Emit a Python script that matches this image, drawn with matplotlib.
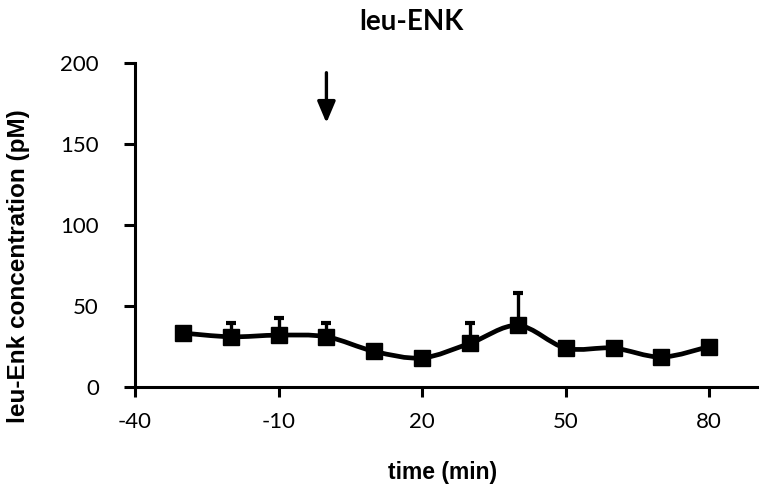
import matplotlib
matplotlib.use("Agg")
import matplotlib.pyplot as plt
from matplotlib.path import Path
from matplotlib.patches import PathPatch
import numpy as np

plt.rcParams["axes.unicode_minus"] = False

# sampling times (min) and leu-Enk concentration (pM)
time_min = [-30, -20, -10, 0, 10, 20, 30, 40, 50, 60, 70, 80]
conc = [33.3, 31, 32, 31, 22, 18, 27, 38, 24, 24, 18.5, 25]
err_up = [0, 8.5, 10.5, 8.5, 0, 0, 12.5, 20, 0, 0, 0, 0]

x_ticks = [-40, -10, 20, 50, 80]
y_ticks = [0, 50, 100, 150, 200]
arrow_x = 0
arrow_top, arrow_tip = 194, 163

TICK_FONT = "Lato"
LABEL_FONT = "Liberation Sans"


def smooth_path(xs, ys):
    # Catmull-Rom style smoothing, drawn as cubic bezier segments
    pts = np.column_stack([xs, ys]).astype(float)
    ext = np.vstack([pts[0], pts, pts[-1]])
    verts = [tuple(pts[0])]
    codes = [Path.MOVETO]
    for i in range(1, len(ext) - 2):
        p0, p1, p2, p3 = ext[i - 1], ext[i], ext[i + 1], ext[i + 2]
        c1 = p1 + (p2 - p0) / 6
        c2 = p2 - (p3 - p1) / 6
        verts += [tuple(c1), tuple(c2), tuple(p2)]
        codes += [Path.CURVE4] * 3
    return Path(verts, codes)


fig = plt.figure(figsize=(7.64, 4.92), dpi=100)
ax = fig.add_axes([0.1767, 0.2134, 0.8143, 0.6586])

ax.errorbar(time_min, conc, yerr=[np.zeros(len(err_up)), err_up], fmt="none",
            ecolor="black", elinewidth=2.4, capsize=3.6, capthick=3, zorder=2)
ax.add_patch(PathPatch(smooth_path(time_min, conc), facecolor="none",
                       edgecolor="black", lw=3.4, zorder=3))
ax.plot(time_min, conc, ls="none", marker="s", ms=11.5, color="black", zorder=4)

ax.annotate("", xy=(arrow_x, arrow_tip), xytext=(arrow_x, arrow_top),
            arrowprops=dict(arrowstyle="-|>,head_length=1.3,head_width=0.55",
                            lw=2.4, color="black", shrinkA=0, shrinkB=0,
                            mutation_scale=10))

ax.set_xlim(-40, 90)
ax.set_ylim(0, 200)
ax.set_xticks(x_ticks)
ax.set_yticks(y_ticks)
for s in ("top", "right"):
    ax.spines[s].set_visible(False)
for s in ("left", "bottom"):
    ax.spines[s].set_linewidth(2.2)
ax.tick_params(axis="x", direction="out", width=2.2, length=7, pad=11, labelsize=16)
ax.tick_params(axis="y", direction="out", width=2.2, length=8, pad=18, labelsize=16)
for lab in ax.get_xticklabels() + ax.get_yticklabels():
    lab.set_fontfamily(TICK_FONT)

fig.text(443 / 764, 1 - 472 / 492, "time (min)", ha="center", va="center",
         fontsize=16.5, fontweight="bold", family=LABEL_FONT)
fig.text(19 / 764, 1 - 266 / 492, "leu-Enk concentration (pM)", ha="center",
         va="center", rotation=90, fontsize=17.5, fontweight="bold", family=LABEL_FONT)
fig.text(0.538, 0.94, "leu-ENK", ha="center", va="baseline", fontsize=20,
         fontweight="bold", family=TICK_FONT)

fig.savefig("out.png", dpi=100, facecolor="white")
